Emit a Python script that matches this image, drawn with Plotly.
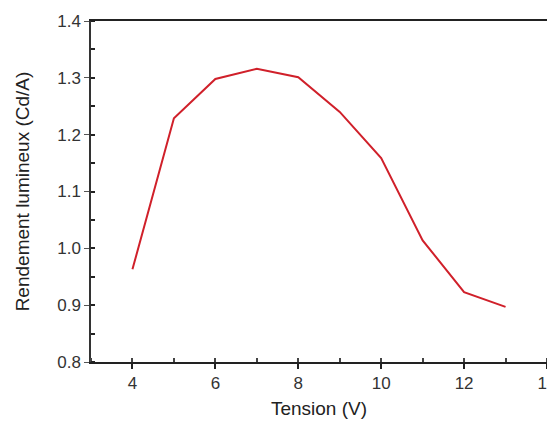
from plotly import graph_objs as go

tension = [4, 5, 6, 7, 8, 9, 10, 11, 12, 13]
rendement = [0.963, 1.229, 1.298, 1.316, 1.301, 1.240, 1.159, 1.014, 0.923, 0.897]

x_ticks = [4, 6, 8, 10, 12, 14]
y_ticks = [0.8, 0.9, 1.0, 1.1, 1.2, 1.3, 1.4]

fig = go.Figure()
fig.add_trace(go.Scatter(x=tension, y=rendement, mode='lines',
                         line=dict(color='#d0202a', width=2), showlegend=False))

tick_font = dict(family="Liberation Sans, Arial, sans-serif", size=17, color="#333")
title_font = dict(family="Liberation Sans, Arial, sans-serif", size=19, color="#222")

# la page a une marge de 8 px, on la compense ici
fig.update_layout(
    width=547, height=415,
    margin=dict(l=83, r=8, t=13, b=61),
    plot_bgcolor='white', paper_bgcolor='white',
    xaxis=dict(range=[3, 14], tickvals=x_ticks, ticks='outside', ticklen=5, tickwidth=1.5,
               tickcolor='#222', showline=True, linecolor='#222', linewidth=1.5, mirror=True,
               showgrid=False, zeroline=False, automargin=False, tickfont=tick_font,
               ticklabeloverflow='allow',
               minor=dict(dtick=1, tick0=3, ticks='inside', ticklen=4, tickcolor='#444'),
               title=dict(text='Tension (V)', font=title_font, standoff=10)),
    yaxis=dict(range=[0.8, 1.4], tickvals=y_ticks, ticktext=[f"{v:.1f}" for v in y_ticks],
               ticks='outside', ticklen=5, tickwidth=1, tickcolor='#555',
               showline=True, linecolor='#333', linewidth=1.5, mirror=True,
               showgrid=False, zeroline=False, automargin=False, tickfont=tick_font,
               minor=dict(dtick=0.05, tick0=0.8, ticks='inside', ticklen=4, tickwidth=1.5,
                          tickcolor='#222'),
               title=dict(text='Rendement lumineux (Cd/A)', font=title_font, standoff=23)),
)

fig.write_html("out.html")
